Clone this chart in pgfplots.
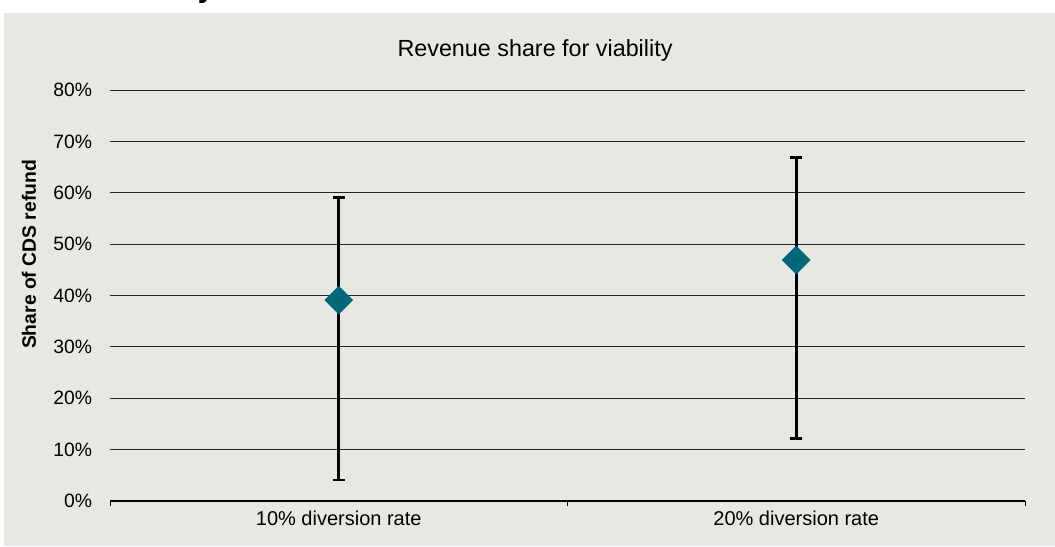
\documentclass[border=0pt]{standalone}
\usepackage{pgfplots}
\pgfplotsset{compat=1.18}
\usepackage{fontspec}
\setmainfont{Liberation Sans}
\definecolor{panel}{RGB}{233,231,226}
\definecolor{teal1}{RGB}{0,104,120}
\begin{document}
\begin{tikzpicture}[x=0.75pt,y=0.75pt]
\path[use as bounding box] (0,0) rectangle (1055,546);
\fill[panel] (4,0) rectangle (1055,533);
\begin{scope}
\clip (0,533) rectangle (1055,546);
\node[font=\bfseries\fontsize{22}{24}\selectfont] at (206,553) {y};
\end{scope}
\node[font=\fontsize{17.5}{20}\selectfont] at (535,496) {Revenue share for viability};
\begin{axis}[
  at={(82.5pt,33.75pt)}, anchor=south west, scale only axis,
  width=686.25pt, height=308.25pt,
  xmin=0.5, xmax=2.5, ymin=0, ymax=80,
  axis x line*=bottom, axis y line*=left,
  y axis line style={draw=none},
  x axis line style={black, line width=0.8pt},
  xtick={0.5,1.5,2.5}, xticklabels={},
  tick align=outside,
  xtick style={draw=black, line width=0.6pt}, major tick length=4pt,
  extra x ticks={1,2}, extra x tick labels={10\% diversion rate,20\% diversion rate},
  extra x tick style={major tick length=0pt, grid=none},
  xticklabel style={font=\fontsize{15}{17}\selectfont, yshift=-4pt},
  ytick={0,10,...,80},
  /pgf/number format/assume math mode=true,
  yticklabel={\pgfmathprintnumber{\tick}\%},
  yticklabel style={font=\fontsize{14.5}{17}\selectfont, xshift=-6pt},
  ytick style={draw=none},
  ymajorgrids, grid style={black!85, line width=0.75pt},
  ylabel={\bfseries Share of CDS refund},
  ylabel style={font=\fontsize{14.5}{17}\selectfont, at={(ticklabel cs:0.6)}, yshift=6pt},
  axis background/.style={fill=panel},
  clip=false,
]
\addplot[only marks, mark=square*, mark size=7.4pt,
  mark options={rotate=45, fill=teal1, draw=teal1},
  error bars/.cd, y dir=both, y explicit,
  error bar style={black, line width=1.9pt},
  error mark options={rotate=90, mark size=4.5pt, line width=1.9pt, black}]
  coordinates {
    (1,39.1) -= (0,35) += (0,20)
    (2,46.9) -= (0,34.7) += (0,20)
  };
\end{axis}
\end{tikzpicture}
\end{document}
